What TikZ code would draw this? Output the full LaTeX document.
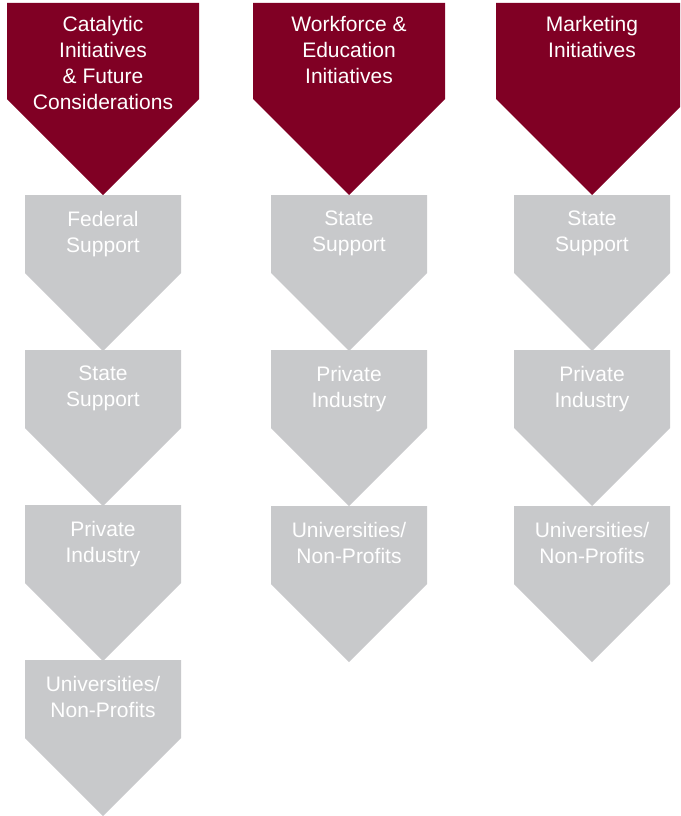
\documentclass[tikz,border=0pt]{standalone}
\usepackage{fontspec}
\setmainfont{Liberation Sans}
\definecolor{wine}{RGB}{128,0,36}
\definecolor{chevgray}{RGB}{200,201,203}
\tikzset{
  chevtext/.style={anchor=north, inner sep=0pt, align=center, text=white,
    font=\fontsize{21}{26}\selectfont},
}
\begin{document}
\begin{tikzpicture}[x=1pt,y=1pt,yscale=-1,xscale=1]
\useasboundingbox (0,0) rectangle (680,816);
\clip (0,0) rectangle (680,816);

%Shape: red chevrons, one per column
\foreach \cx in {103,349,592}
  \fill [wine] (\cx-96,3) -- (\cx+96,3) -- (\cx+96,99) -- (\cx,195) -- (\cx-96,99) -- cycle;

%Shape: grey chevrons, column 1
\foreach \top in {195,350,505,660}
  \fill [chevgray] (25,\top) -- (181,\top) -- (181,\top+78) -- (103,\top+156) -- (25,\top+78) -- cycle;
%Shape: grey chevrons, columns 2 and 3
\foreach \cx in {349,592}
  \foreach \top in {195,350,506}
    \fill [chevgray] (\cx-78,\top) -- (\cx+78,\top) -- (\cx+78,\top+78) -- (\cx,\top+156) -- (\cx-78,\top+78) -- cycle;

% Text Node
\node [chevtext] (catalytic) at (103,16) {Catalytic\\Initiatives\\\& Future\\Considerations};
% Text Node
\node [chevtext] (workforce) at (349,16) {Workforce \&\\Education\\Initiatives};
% Text Node
\node [chevtext] (marketing) at (592,16) {Marketing\\Initiatives};

% Text Node
\node [chevtext] (federal1) at (103,211) {Federal\\Support};
% Text Node
\node [chevtext] (state1) at (103,366) {State\\Support};
% Text Node
\node [chevtext] (private1) at (103,521) {Private\\Industry};
% Text Node
\node [chevtext] (univ1) at (103,676) {Universities/\\Non-Profits};

% Text Node
\node [chevtext] (state2) at (349,211) {State\\Support};
% Text Node
\node [chevtext] (private2) at (349,366) {Private\\Industry};
% Text Node
\node [chevtext] (univ2) at (349,522) {Universities/\\Non-Profits};

% Text Node
\node [chevtext] (state3) at (592,211) {State\\Support};
% Text Node
\node [chevtext] (private3) at (592,366) {Private\\Industry};
% Text Node
\node [chevtext] (univ3) at (592,522) {Universities/\\Non-Profits};

\end{tikzpicture}
\end{document}
